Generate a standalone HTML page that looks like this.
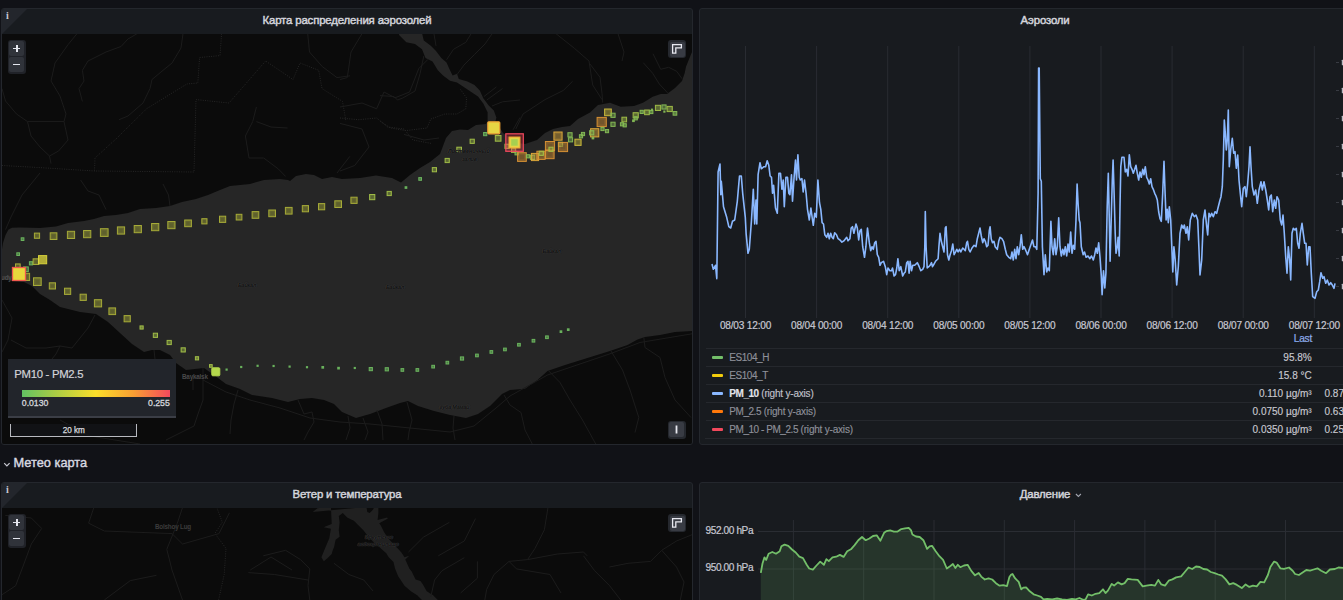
<!DOCTYPE html>
<html lang="ru"><head><meta charset="utf-8"><title>Dashboard</title>
<style>
*{box-sizing:border-box;margin:0;padding:0}
html,body{width:1343px;height:600px;overflow:hidden;background:#111217;font-family:"Liberation Sans",Arial,sans-serif;color:#ccccdc}
.panel{position:absolute;background:#181b1f;border:1px solid #24272d;border-radius:3px;overflow:hidden}
.ptitle{position:absolute;left:0;right:0;top:0;height:25px;line-height:22.5px;text-align:center;font-size:11.4px;color:#d4d5dc;-webkit-text-stroke:0.45px #d4d5dc;letter-spacing:-0.15px}
.corner{position:absolute;left:0;top:0;width:0;height:0;border-top:25px solid #23262c;border-right:25px solid transparent}
.ci{position:absolute;left:4px;top:1px;font-family:"Liberation Serif",serif;font-weight:bold;font-size:10px;color:#c9cad3;line-height:12px}
.map{position:absolute;left:0;top:25px;right:0;bottom:0;background:#0b0b0b;overflow:hidden}
svg{position:absolute;left:0;top:0;overflow:visible}
.zoomc{position:absolute;left:5.7px;top:5.6px;width:18px;height:34.5px;background:rgba(34,37,43,.9);border-radius:3px;padding:1.5px}
.zoomc div{width:15px;height:15px;background:#30333a;border-radius:2px;margin-bottom:1px;position:relative}
.zoomc div:before{content:"";position:absolute;left:4.2px;top:6.6px;width:6.6px;height:1.8px;background:#e4e6ee}
.zoomc div.p:after{content:"";position:absolute;left:6.6px;top:4.2px;width:1.8px;height:6.6px;background:#e4e6ee}
.mbtn{position:absolute;width:18px;height:18px;background:rgba(40,43,50,.9);border-radius:3px;padding:1.5px}
.mbtn div{width:15px;height:15px;background:#383b43;border-radius:2px;position:relative}
.mlegend{position:absolute;left:5.8px;top:325.3px;width:168px;height:58.7px;background:#22252b;border-bottom:2px solid #3b3e46}
.mlegend .t{position:absolute;left:6.5px;top:7.3px;font-size:11.3px;line-height:14px;color:#d2d3d8;letter-spacing:-0.28px;-webkit-text-stroke:0.2px #d2d3d8}
.mlegend .bar{position:absolute;left:14px;top:30.5px;width:148px;height:7.5px;background:linear-gradient(90deg,#62c262 0%,#a8cc45 22%,#fade2a 50%,#f9a033 75%,#f2495c 100%)}
.mlegend .l{position:absolute;top:38.6px;font-size:8.7px;line-height:10px;color:#d5d6dc;-webkit-text-stroke:0.3px #d5d6dc}
.scalebar{position:absolute;left:8.3px;top:389.7px;width:127px;height:13px;border:1px solid #b8bac0;border-top:none;background:rgba(20,22,25,.75);font-size:8.2px;line-height:13.5px;text-align:center;color:#d8d9df;-webkit-text-stroke:0.25px #d8d9df}
.mapl{position:absolute;font-size:6.3px;font-weight:bold;color:#4a4a4a;white-space:nowrap;line-height:7px;letter-spacing:-0.2px}
.mapl.i{font-style:italic;font-size:5.4px;color:#0e0e0e;text-shadow:0 0 1px #444,0 0 1px #444}
.xl{position:absolute;top:319.5px;width:80px;text-align:center;font-size:10.1px;line-height:12px;color:#c7c8d2;letter-spacing:-0.2px;-webkit-text-stroke:0.2px #c7c8d2}
.lrow{position:absolute;left:706px;width:642px;height:18px;border-top:1px solid #25282d;font-size:10px;line-height:17.6px;color:#8e9099;-webkit-text-stroke:0.15px}
.lrow i{position:absolute;left:6px;top:6.6px;width:11px;height:3px;border-radius:1px}
.lrow .ln{position:absolute;left:23.3px;letter-spacing:-0.45px}
.lrow em{letter-spacing:-0.2px}
.lrow.b .ln{font-weight:bold}
.lrow em{font-style:normal;font-weight:normal}
.lrow.b .ln{color:#e2e3ea}
.lrow.b em{color:#c0c1ca}
.lrow .lv{position:absolute;right:36.3px;color:#c8c9d0;letter-spacing:0px}
.lrow .lv2{position:absolute;left:618.5px;color:#c8c9d0}
.yl{position:absolute;font-size:10.1px;line-height:12px;color:#c7c8d2;left:705.5px;letter-spacing:-0.4px;-webkit-text-stroke:0.2px #c7c8d2}
.row{position:absolute;left:13.5px;top:455px;font-size:12.8px;line-height:16px;color:#d8d9e2;-webkit-text-stroke:0.4px #d8d9e2}
</style></head><body>

<!-- Panel 1: aerosol map -->
<div class="panel" style="left:1px;top:8px;width:692px;height:437px">
 <div class="ptitle">Карта распределения аэрозолей</div>
 <div class="corner"></div><div class="ci">i</div>
 <div class="map">
  <svg width="690" height="411" viewBox="2 34 690 411">
   <polygon points="1.0,264.0 1.5,252.0 3.0,243.0 5.5,235.0 8.5,229.5 12.0,227.8 20.0,227.5 40.0,228.0 56.0,226.4 68.0,223.0 84.0,221.0 94.0,219.0 104.0,216.0 116.0,215.0 128.0,213.0 140.0,209.0 156.0,208.0 170.0,206.0 182.0,202.0 196.0,199.0 208.0,195.0 220.0,190.0 230.0,186.0 250.0,184.0 264.0,180.0 280.0,179.0 288.0,180.0 290.0,181.0 296.0,176.0 306.0,174.0 314.0,175.0 322.0,179.0 332.0,177.0 342.0,179.0 360.0,178.0 376.0,175.6 392.0,178.0 401.0,182.6 410.0,175.0 420.0,168.0 430.0,162.0 440.0,154.0 446.0,138.0 452.0,131.0 460.0,129.6 468.0,130.0 476.0,125.0 486.0,124.0 487.6,121.0 487.6,112.3 483.3,103.5 478.0,96.5 467.5,89.5 457.0,82.5 450.0,80.8 443.0,75.5 437.8,70.3 432.5,61.5 425.5,58.0 422.0,49.3 415.0,44.0 406.3,42.3 399.3,35.3 398.4,33.0 422.0,33.0 423.8,40.5 430.8,45.8 436.0,51.0 441.3,58.0 446.5,62.4 450.0,70.3 452.6,75.5 457.0,73.8 458.8,79.0 467.5,81.6 474.5,85.0 479.8,90.4 483.3,98.3 488.5,105.3 493.8,110.5 496.4,117.5 495.5,121.0 497.0,124.0 500.0,128.0 503.0,133.0 510.0,138.0 518.0,143.0 525.0,144.0 537.0,140.0 545.0,133.0 553.0,129.0 562.0,127.0 570.0,126.0 578.0,119.0 590.0,112.5 598.0,105.0 610.0,102.7 620.7,106.7 634.0,106.0 643.0,102.7 652.7,96.7 660.7,94.0 667.0,94.0 675.0,88.0 682.0,81.0 684.7,73.0 686.0,66.7 688.7,60.0 692.0,52.0 692.0,331.0 675.0,332.0 660.0,335.0 645.0,337.0 637.5,339.5 627.5,345.0 610.0,351.0 585.0,358.7 565.0,365.0 547.5,371.0 537.5,380.0 525.0,388.7 510.0,390.0 502.0,394.0 490.0,406.0 478.0,414.0 466.0,418.0 450.0,415.0 434.0,411.0 418.0,406.0 408.0,401.0 400.0,403.0 386.0,408.0 370.0,414.0 356.0,418.0 342.0,412.0 334.0,404.0 324.0,400.0 312.0,398.0 300.0,399.0 288.0,402.0 272.0,398.0 252.0,395.0 240.0,389.0 226.0,384.0 214.0,375.0 204.0,368.0 186.0,370.0 176.0,363.0 170.0,355.0 160.0,350.0 152.0,350.0 144.0,352.0 132.0,344.0 120.0,333.0 108.0,322.0 96.0,314.0 80.0,312.0 60.0,307.0 50.0,300.0 40.0,294.0 32.0,286.0 24.0,282.0 12.0,281.0 2.0,279.0 1.0,279.0" fill="#262626"/>
   <g fill="none" stroke="#1c1c1c" stroke-width="1"><polyline points="77.0,33.7 68.0,44.7 55.0,63.0 51.0,81.0 60.0,96.0 66.0,114.0 64.0,121.6 68.0,140.0 58.6,151.0 49.5,156.0 51.0,163.7"/>
<polyline points="2.0,88.6 5.5,101.0 16.5,114.0 27.5,121.6 44.0,121.6 64.0,121.6"/>
<polyline points="27.5,121.6 31.0,136.0 40.0,147.0 49.5,156.0"/>
<polyline points="137.0,33.7 128.0,39.0 121.0,46.5 106.0,52.0 88.0,61.0 82.4,70.3 84.0,81.0 79.0,88.6 82.4,101.4"/>
<polyline points="183.0,33.7 181.0,48.0 172.0,63.0 161.0,72.0 152.0,79.5 150.0,88.6 143.0,103.0 128.0,116.0 119.0,119.7"/>
<polyline points="221.6,33.7 220.0,55.6 199.6,57.5 197.8,83.0 186.8,84.0 146.5,108.8 117.0,138.0 95.0,158.0 94.5,171.0" stroke="#262626" stroke-dasharray="1 1.3"/>
<polyline points="2.0,165.5 36.6,167.4 94.5,171.0 194.0,172.0 196.0,99.6 229.0,103.0 265.6,61.0 293.0,79.5 300.0,63.0 318.7,70.3 322.0,88.6 342.5,101.4 346.0,121.6" stroke="#262626" stroke-dasharray="1 1.3"/>
<polyline points="256.4,107.0 252.7,121.6 245.4,136.0 249.0,158.0 263.7,158.0 278.4,169.0 285.7,176.5"/>
<polyline points="256.4,121.6 271.0,127.0 287.5,128.0"/>
<polyline points="307.7,33.7 309.5,52.0 322.3,66.6 337.0,77.6 350.0,75.8"/>
<polyline points="349.8,156.4 337.0,173.0"/>
<polyline points="80.6,180.0 88.0,191.0 99.0,195.0 106.0,209.5"/>
<polyline points="163.0,184.0 168.5,195.0 170.0,206.0"/>
<polyline points="40.0,173.0 22.0,195.0 11.0,217.0 5.5,229.6"/>
<polyline points="362.0,33.7 351.0,52.0 347.3,77.6 340.0,79.5"/>
<polyline points="340.0,118.0 358.3,119.7 376.6,118.0 387.6,127.0 404.0,129.0 413.0,140.0 431.6,143.5" stroke="#262626" stroke-dasharray="1 1.3"/>
<polyline points="340.0,107.0 362.0,103.0 376.6,108.8 384.0,92.0 395.0,97.8 409.6,92.0 418.8,68.5 428.0,59.3"/>
<polyline points="340.0,123.4 362.0,129.0 369.0,147.0 354.7,165.5 340.0,171.0"/>
<polyline points="404.0,134.4 424.0,140.0 439.0,138.0"/>
<polyline points="515.8,129.0 523.0,114.0 545.0,99.6 563.4,90.4 572.6,81.3"/>
<polyline points="471.0,33.9 465.8,42.3 453.5,49.3 446.5,59.8"/>
<polyline points="492.0,33.9 485.0,44.0 474.5,54.5 464.0,65.0 457.0,74.6"/>
<polyline points="434.0,33.9 436.0,45.8"/>
<polyline points="423.8,56.0 420.0,73.8 415.0,91.0 402.8,98.0 397.5,100.0 394.0,96.5 380.0,95.6"/>
<polyline points="496.4,86.9 484.0,96.5"/>
<polyline points="502.5,88.6 486.8,100.0"/>
<polyline points="520.0,100.0 502.5,101.8 492.0,106.0"/>
<polyline points="520.0,117.5 513.0,129.8"/>
<polyline points="460.5,89.5 466.6,98.0 465.8,108.8 457.0,114.0 444.8,114.0 430.8,119.0 427.0,128.0 406.0,130.6 390.5,128.0 380.0,121.0" stroke="#262626" stroke-dasharray="1 1.3"/>
<polyline points="556.0,33.7 574.4,48.3 589.0,61.0 592.7,85.0 602.0,99.6"/>
<polyline points="618.0,33.7 624.0,52.0 622.0,61.0"/>
<polyline points="590.0,64.0 600.0,77.3 602.0,93.3 602.7,102.7"/>
<polyline points="643.3,62.7 652.7,73.3 659.3,84.0 668.0,93.3"/>
<polyline points="653.0,53.8 660.7,69.3 668.7,67.3 676.7,71.3 682.0,78.7"/>
<polyline points="203.0,368.0 203.0,400.0 198.0,414.0 194.0,426.0 178.0,434.0 166.0,440.0"/>
<polyline points="193.0,378.0 193.0,390.0"/>
<polyline points="238.0,390.0 234.0,404.0 231.0,420.0 230.0,434.0"/>
<polyline points="298.0,400.0 304.0,414.0 312.0,412.0 314.0,422.0 308.0,432.0 304.0,440.0"/>
<polyline points="203.0,380.0 226.0,392.0 250.0,400.0 280.0,408.0 310.0,418.0 340.0,422.0 370.0,424.0 410.0,428.0 450.0,432.0 474.0,426.0 496.0,408.0 510.0,396.0 547.5,375.0 610.0,353.8 640.0,342.5 692.0,333.8"/>
<polyline points="348.0,416.0 350.0,428.0 346.0,440.0"/>
<polyline points="363.0,418.0 368.0,432.0 365.0,440.0"/>
<polyline points="377.0,410.0 382.0,424.0 383.0,440.0"/>
<polyline points="407.0,402.0 412.0,420.0 409.0,432.0 408.0,440.0"/>
<polyline points="454.0,416.0 453.0,428.0 455.0,440.0"/>
<polyline points="504.0,395.0 510.0,405.0 521.0,412.5 525.0,430.0 532.5,444.5"/>
<polyline points="548.8,371.0 560.0,382.5 570.0,400.0 582.5,420.0 596.0,444.5"/>
<polyline points="611.0,351.0 622.5,370.0 630.0,390.0 638.8,417.5 635.0,432.5"/>
<polyline points="643.8,337.5 645.0,347.5 660.0,357.5 665.0,377.5 675.0,400.0 691.0,417.5"/>
<polyline points="95.0,315.0 88.0,328.0 80.0,338.0 72.0,348.0 60.0,346.0 56.0,354.0 52.0,359.0"/>
<polyline points="11.0,340.0 26.0,348.0 46.0,348.0 60.0,346.0"/>
<polyline points="154.0,350.0 155.0,359.0"/>
<polyline points="2.0,300.0 12.0,318.0 8.0,340.0 2.0,352.0"/>
<polyline points="60.0,420.0 90.0,436.0 140.0,444.0"/></g>
   <rect x="21.2" y="237.8" width="2.7" height="2.7" fill="#6db85f" fill-opacity="0.6" stroke="#6db85f" stroke-opacity="0.95" stroke-width="1"/>
<rect x="34.4" y="233.1" width="5.2" height="5.2" fill="#abb038" fill-opacity="0.5" stroke="#abb038" stroke-opacity="0.95" stroke-width="1"/><rect x="35.7" y="234.4" width="2.6" height="2.6" fill="#222" fill-opacity="0.15"/>
<rect x="50.2" y="232.8" width="6.7" height="6.7" fill="#abb038" fill-opacity="0.5" stroke="#abb038" stroke-opacity="0.95" stroke-width="1"/><rect x="51.9" y="234.4" width="3.4" height="3.4" fill="#222" fill-opacity="0.15"/>
<rect x="67.4" y="231.3" width="7.2" height="7.2" fill="#abb038" fill-opacity="0.5" stroke="#abb038" stroke-opacity="0.95" stroke-width="1"/><rect x="69.2" y="233.1" width="3.6" height="3.6" fill="#222" fill-opacity="0.15"/>
<rect x="83.6" y="230.5" width="7.2" height="7.2" fill="#abb038" fill-opacity="0.5" stroke="#abb038" stroke-opacity="0.95" stroke-width="1"/><rect x="85.4" y="232.3" width="3.6" height="3.6" fill="#222" fill-opacity="0.15"/>
<rect x="100.4" y="228.7" width="7.7" height="7.7" fill="#abb038" fill-opacity="0.5" stroke="#abb038" stroke-opacity="0.95" stroke-width="1"/><rect x="102.3" y="230.6" width="3.9" height="3.9" fill="#222" fill-opacity="0.15"/>
<rect x="117.4" y="226.9" width="7.2" height="7.2" fill="#abb038" fill-opacity="0.5" stroke="#abb038" stroke-opacity="0.95" stroke-width="1"/><rect x="119.2" y="228.7" width="3.6" height="3.6" fill="#222" fill-opacity="0.15"/>
<rect x="134.2" y="225.5" width="7.2" height="7.2" fill="#abb038" fill-opacity="0.5" stroke="#abb038" stroke-opacity="0.95" stroke-width="1"/><rect x="136.0" y="227.3" width="3.6" height="3.6" fill="#222" fill-opacity="0.15"/>
<rect x="151.6" y="223.5" width="7.2" height="7.2" fill="#abb038" fill-opacity="0.5" stroke="#abb038" stroke-opacity="0.95" stroke-width="1"/><rect x="153.4" y="225.3" width="3.6" height="3.6" fill="#222" fill-opacity="0.15"/>
<rect x="167.8" y="221.5" width="7.2" height="7.2" fill="#abb038" fill-opacity="0.5" stroke="#abb038" stroke-opacity="0.95" stroke-width="1"/><rect x="169.6" y="223.3" width="3.6" height="3.6" fill="#222" fill-opacity="0.15"/>
<rect x="184.7" y="220.0" width="6.7" height="6.7" fill="#abb038" fill-opacity="0.5" stroke="#abb038" stroke-opacity="0.95" stroke-width="1"/><rect x="186.3" y="221.6" width="3.4" height="3.4" fill="#222" fill-opacity="0.15"/>
<rect x="201.8" y="218.7" width="5.2" height="5.2" fill="#abb038" fill-opacity="0.5" stroke="#abb038" stroke-opacity="0.95" stroke-width="1"/><rect x="203.1" y="220.0" width="2.6" height="2.6" fill="#222" fill-opacity="0.15"/>
<rect x="219.5" y="216.2" width="6.2" height="6.2" fill="#abb038" fill-opacity="0.5" stroke="#abb038" stroke-opacity="0.95" stroke-width="1"/><rect x="221.0" y="217.8" width="3.1" height="3.1" fill="#222" fill-opacity="0.15"/>
<rect x="236.2" y="214.3" width="5.7" height="5.7" fill="#abb038" fill-opacity="0.5" stroke="#abb038" stroke-opacity="0.95" stroke-width="1"/><rect x="237.6" y="215.7" width="2.9" height="2.9" fill="#222" fill-opacity="0.15"/>
<rect x="252.1" y="211.6" width="6.7" height="6.7" fill="#abb038" fill-opacity="0.5" stroke="#abb038" stroke-opacity="0.95" stroke-width="1"/><rect x="253.7" y="213.2" width="3.4" height="3.4" fill="#222" fill-opacity="0.15"/>
<rect x="268.8" y="210.0" width="6.7" height="6.7" fill="#abb038" fill-opacity="0.5" stroke="#abb038" stroke-opacity="0.95" stroke-width="1"/><rect x="270.5" y="211.6" width="3.4" height="3.4" fill="#222" fill-opacity="0.15"/>
<rect x="285.4" y="207.4" width="6.7" height="6.7" fill="#abb038" fill-opacity="0.5" stroke="#abb038" stroke-opacity="0.95" stroke-width="1"/><rect x="287.1" y="209.0" width="3.4" height="3.4" fill="#222" fill-opacity="0.15"/>
<rect x="302.3" y="205.6" width="6.2" height="6.2" fill="#abb038" fill-opacity="0.5" stroke="#abb038" stroke-opacity="0.95" stroke-width="1"/><rect x="303.8" y="207.2" width="3.1" height="3.1" fill="#222" fill-opacity="0.15"/>
<rect x="318.5" y="203.6" width="6.2" height="6.2" fill="#abb038" fill-opacity="0.5" stroke="#abb038" stroke-opacity="0.95" stroke-width="1"/><rect x="320.1" y="205.2" width="3.1" height="3.1" fill="#222" fill-opacity="0.15"/>
<rect x="334.8" y="200.8" width="6.7" height="6.7" fill="#abb038" fill-opacity="0.5" stroke="#abb038" stroke-opacity="0.95" stroke-width="1"/><rect x="336.5" y="202.4" width="3.4" height="3.4" fill="#222" fill-opacity="0.15"/>
<rect x="350.9" y="197.2" width="6.2" height="6.2" fill="#abb038" fill-opacity="0.5" stroke="#abb038" stroke-opacity="0.95" stroke-width="1"/><rect x="352.4" y="198.8" width="3.1" height="3.1" fill="#222" fill-opacity="0.15"/>
<rect x="369.6" y="194.5" width="5.2" height="5.2" fill="#a3c148" fill-opacity="0.5" stroke="#a3c148" stroke-opacity="0.95" stroke-width="1"/><rect x="370.9" y="195.8" width="2.6" height="2.6" fill="#222" fill-opacity="0.15"/>
<rect x="387.1" y="191.4" width="4.2" height="4.2" fill="#a3c148" fill-opacity="0.5" stroke="#a3c148" stroke-opacity="0.95" stroke-width="1"/><rect x="388.1" y="192.4" width="2.1" height="2.1" fill="#222" fill-opacity="0.15"/>
<rect x="404.6" y="186.2" width="2.7" height="2.7" fill="#6db85f" fill-opacity="0.95"/>
<rect x="418.8" y="177.6" width="2.7" height="2.7" fill="#6db85f" fill-opacity="0.6" stroke="#6db85f" stroke-opacity="0.95" stroke-width="1"/>
<rect x="432.3" y="167.6" width="4.2" height="4.2" fill="#a3c148" fill-opacity="0.5" stroke="#a3c148" stroke-opacity="0.95" stroke-width="1"/><rect x="433.3" y="168.7" width="2.1" height="2.1" fill="#222" fill-opacity="0.15"/>
<rect x="445.1" y="158.4" width="4.2" height="4.2" fill="#a3c148" fill-opacity="0.5" stroke="#a3c148" stroke-opacity="0.95" stroke-width="1"/><rect x="446.1" y="159.4" width="2.1" height="2.1" fill="#222" fill-opacity="0.15"/>
<rect x="456.8" y="147.2" width="4.7" height="4.7" fill="#a3c148" fill-opacity="0.5" stroke="#a3c148" stroke-opacity="0.95" stroke-width="1"/><rect x="458.0" y="148.3" width="2.4" height="2.4" fill="#222" fill-opacity="0.15"/>
<rect x="470.1" y="139.2" width="4.2" height="4.2" fill="#a3c148" fill-opacity="0.5" stroke="#a3c148" stroke-opacity="0.95" stroke-width="1"/><rect x="471.1" y="140.2" width="2.1" height="2.1" fill="#222" fill-opacity="0.15"/>
<rect x="483.6" y="132.5" width="3.2" height="3.2" fill="#6db85f" fill-opacity="0.6" stroke="#6db85f" stroke-opacity="0.95" stroke-width="1"/>
<rect x="495.3" y="135.5" width="5.7" height="5.7" fill="#a3c148" fill-opacity="0.5" stroke="#a3c148" stroke-opacity="0.95" stroke-width="1"/><rect x="496.8" y="136.9" width="2.9" height="2.9" fill="#222" fill-opacity="0.15"/>
<rect x="16.8" y="252.8" width="2.7" height="2.7" fill="#6db85f" fill-opacity="0.6" stroke="#6db85f" stroke-opacity="0.95" stroke-width="1"/>
<rect x="29.4" y="261.7" width="3.2" height="3.2" fill="#6db85f" fill-opacity="0.6" stroke="#6db85f" stroke-opacity="0.95" stroke-width="1"/>
<rect x="33.1" y="258.8" width="5.7" height="5.7" fill="#abb038" fill-opacity="0.5" stroke="#abb038" stroke-opacity="0.95" stroke-width="1"/><rect x="34.6" y="260.3" width="2.9" height="2.9" fill="#222" fill-opacity="0.15"/>
<rect x="38.5" y="255.6" width="8.2" height="8.2" fill="#e0da3c" fill-opacity="0.75" stroke="#e0da3c" stroke-opacity="0.9" stroke-width="1"/>
<rect x="15.5" y="263.9" width="4.7" height="4.7" fill="#abb038" fill-opacity="0.5" stroke="#abb038" stroke-opacity="0.95" stroke-width="1"/><rect x="16.6" y="265.1" width="2.4" height="2.4" fill="#222" fill-opacity="0.15"/>
<rect x="23.6" y="266.9" width="4.7" height="4.7" fill="#6db85f" fill-opacity="0.5" stroke="#6db85f" stroke-opacity="0.95" stroke-width="1"/><rect x="24.8" y="268.1" width="2.4" height="2.4" fill="#222" fill-opacity="0.15"/>
<rect x="22.4" y="273.3" width="7.2" height="7.2" fill="#abb038" fill-opacity="0.5" stroke="#abb038" stroke-opacity="0.95" stroke-width="1"/><rect x="24.2" y="275.1" width="3.6" height="3.6" fill="#222" fill-opacity="0.15"/>
<rect x="33.5" y="277.8" width="7.7" height="7.7" fill="#abb038" fill-opacity="0.5" stroke="#abb038" stroke-opacity="0.95" stroke-width="1"/><rect x="35.5" y="279.8" width="3.9" height="3.9" fill="#222" fill-opacity="0.15"/>
<rect x="49.3" y="282.8" width="6.2" height="6.2" fill="#abb038" fill-opacity="0.5" stroke="#abb038" stroke-opacity="0.95" stroke-width="1"/><rect x="50.9" y="284.4" width="3.1" height="3.1" fill="#222" fill-opacity="0.15"/>
<rect x="64.5" y="288.2" width="6.2" height="6.2" fill="#abb038" fill-opacity="0.5" stroke="#abb038" stroke-opacity="0.95" stroke-width="1"/><rect x="66.0" y="289.8" width="3.1" height="3.1" fill="#222" fill-opacity="0.15"/>
<rect x="80.1" y="294.2" width="6.2" height="6.2" fill="#abb038" fill-opacity="0.5" stroke="#abb038" stroke-opacity="0.95" stroke-width="1"/><rect x="81.7" y="295.8" width="3.1" height="3.1" fill="#222" fill-opacity="0.15"/>
<rect x="94.4" y="299.7" width="7.2" height="7.2" fill="#abb038" fill-opacity="0.5" stroke="#abb038" stroke-opacity="0.95" stroke-width="1"/><rect x="96.2" y="301.5" width="3.6" height="3.6" fill="#222" fill-opacity="0.15"/>
<rect x="108.9" y="307.9" width="6.7" height="6.7" fill="#abb038" fill-opacity="0.5" stroke="#abb038" stroke-opacity="0.95" stroke-width="1"/><rect x="110.5" y="309.6" width="3.4" height="3.4" fill="#222" fill-opacity="0.15"/>
<rect x="124.1" y="315.6" width="6.2" height="6.2" fill="#abb038" fill-opacity="0.5" stroke="#abb038" stroke-opacity="0.95" stroke-width="1"/><rect x="125.7" y="317.1" width="3.1" height="3.1" fill="#222" fill-opacity="0.15"/>
<rect x="140.0" y="325.9" width="3.2" height="3.2" fill="#a3c148" fill-opacity="0.6" stroke="#a3c148" stroke-opacity="0.95" stroke-width="1"/>
<rect x="153.3" y="333.2" width="4.2" height="4.2" fill="#a3c148" fill-opacity="0.5" stroke="#a3c148" stroke-opacity="0.95" stroke-width="1"/><rect x="154.3" y="334.2" width="2.1" height="2.1" fill="#222" fill-opacity="0.15"/>
<rect x="167.1" y="340.4" width="4.2" height="4.2" fill="#a3c148" fill-opacity="0.5" stroke="#a3c148" stroke-opacity="0.95" stroke-width="1"/><rect x="168.1" y="341.4" width="2.1" height="2.1" fill="#222" fill-opacity="0.15"/>
<rect x="181.1" y="347.8" width="4.2" height="4.2" fill="#a3c148" fill-opacity="0.5" stroke="#a3c148" stroke-opacity="0.95" stroke-width="1"/><rect x="182.1" y="348.9" width="2.1" height="2.1" fill="#222" fill-opacity="0.15"/>
<rect x="195.4" y="356.7" width="3.2" height="3.2" fill="#a3c148" fill-opacity="0.6" stroke="#a3c148" stroke-opacity="0.95" stroke-width="1"/>
<rect x="209.5" y="364.6" width="2.7" height="2.7" fill="#a3c148" fill-opacity="0.6" stroke="#a3c148" stroke-opacity="0.95" stroke-width="1"/>
<rect x="225.5" y="368.5" width="2.2" height="2.2" fill="#6db85f" fill-opacity="0.95"/>
<rect x="240.1" y="365.9" width="2.2" height="2.2" fill="#6db85f" fill-opacity="0.95"/>
<rect x="256.5" y="364.7" width="2.2" height="2.2" fill="#6db85f" fill-opacity="0.95"/>
<rect x="272.5" y="364.9" width="2.2" height="2.2" fill="#6db85f" fill-opacity="0.95"/>
<rect x="288.5" y="365.5" width="2.2" height="2.2" fill="#6db85f" fill-opacity="0.95"/>
<rect x="305.9" y="366.1" width="2.2" height="2.2" fill="#6db85f" fill-opacity="0.95"/>
<rect x="321.4" y="366.0" width="2.7" height="2.7" fill="#6db85f" fill-opacity="0.95"/>
<rect x="337.2" y="366.8" width="2.7" height="2.7" fill="#6db85f" fill-opacity="0.95"/>
<rect x="353.7" y="366.9" width="2.2" height="2.2" fill="#6db85f" fill-opacity="0.95"/>
<rect x="369.2" y="367.5" width="3.2" height="3.2" fill="#6db85f" fill-opacity="0.6" stroke="#6db85f" stroke-opacity="0.95" stroke-width="1"/>
<rect x="385.2" y="367.7" width="3.2" height="3.2" fill="#6db85f" fill-opacity="0.6" stroke="#6db85f" stroke-opacity="0.95" stroke-width="1"/>
<rect x="401.0" y="368.6" width="2.7" height="2.7" fill="#6db85f" fill-opacity="0.6" stroke="#6db85f" stroke-opacity="0.95" stroke-width="1"/>
<rect x="416.0" y="368.6" width="2.7" height="2.7" fill="#6db85f" fill-opacity="0.6" stroke="#6db85f" stroke-opacity="0.95" stroke-width="1"/>
<rect x="431.8" y="365.3" width="2.7" height="2.7" fill="#6db85f" fill-opacity="0.6" stroke="#6db85f" stroke-opacity="0.95" stroke-width="1"/>
<rect x="446.0" y="361.3" width="2.7" height="2.7" fill="#6db85f" fill-opacity="0.6" stroke="#6db85f" stroke-opacity="0.95" stroke-width="1"/>
<rect x="460.4" y="356.9" width="3.2" height="3.2" fill="#6db85f" fill-opacity="0.6" stroke="#6db85f" stroke-opacity="0.95" stroke-width="1"/>
<rect x="475.6" y="354.1" width="2.7" height="2.7" fill="#6db85f" fill-opacity="0.6" stroke="#6db85f" stroke-opacity="0.95" stroke-width="1"/>
<rect x="490.0" y="350.6" width="2.7" height="2.7" fill="#6db85f" fill-opacity="0.6" stroke="#6db85f" stroke-opacity="0.95" stroke-width="1"/>
<rect x="503.6" y="348.1" width="2.7" height="2.7" fill="#6db85f" fill-opacity="0.6" stroke="#6db85f" stroke-opacity="0.95" stroke-width="1"/>
<rect x="517.6" y="343.4" width="2.7" height="2.7" fill="#6db85f" fill-opacity="0.6" stroke="#6db85f" stroke-opacity="0.95" stroke-width="1"/>
<rect x="532.1" y="339.4" width="2.7" height="2.7" fill="#6db85f" fill-opacity="0.6" stroke="#6db85f" stroke-opacity="0.95" stroke-width="1"/>
<rect x="545.6" y="335.9" width="2.7" height="2.7" fill="#6db85f" fill-opacity="0.6" stroke="#6db85f" stroke-opacity="0.95" stroke-width="1"/>
<rect x="559.6" y="330.3" width="2.7" height="2.7" fill="#6db85f" fill-opacity="0.95"/>
<rect x="566.9" y="328.3" width="2.7" height="2.7" fill="#6db85f" fill-opacity="0.95"/>
<rect x="504.9" y="144.2" width="4.2" height="4.2" fill="#a3c148" fill-opacity="0.5" stroke="#a3c148" stroke-opacity="0.95" stroke-width="1"/><rect x="505.9" y="145.2" width="2.1" height="2.1" fill="#222" fill-opacity="0.15"/>
<rect x="511.5" y="148.2" width="4.2" height="4.2" fill="#a3c148" fill-opacity="0.5" stroke="#a3c148" stroke-opacity="0.95" stroke-width="1"/><rect x="512.6" y="149.2" width="2.1" height="2.1" fill="#222" fill-opacity="0.15"/>
<rect x="515.0" y="151.7" width="3.2" height="3.2" fill="#86bd55" fill-opacity="0.6" stroke="#86bd55" stroke-opacity="0.95" stroke-width="1"/>
<rect x="517.6" y="152.7" width="8.7" height="8.7" fill="#dd9534" fill-opacity="0.5" stroke="#dd9534" stroke-opacity="0.95" stroke-width="1"/><rect x="519.8" y="154.8" width="4.3" height="4.3" fill="#222" fill-opacity="0.15"/>
<rect x="526.4" y="154.7" width="3.2" height="3.2" fill="#86bd55" fill-opacity="0.6" stroke="#86bd55" stroke-opacity="0.95" stroke-width="1"/>
<rect x="530.4" y="155.2" width="4.2" height="4.2" fill="#86bd55" fill-opacity="0.5" stroke="#86bd55" stroke-opacity="0.95" stroke-width="1"/><rect x="531.5" y="156.2" width="2.1" height="2.1" fill="#222" fill-opacity="0.15"/>
<rect x="531.4" y="153.4" width="7.2" height="7.2" fill="#e2ab3a" fill-opacity="0.5" stroke="#e2ab3a" stroke-opacity="0.95" stroke-width="1"/><rect x="533.2" y="155.2" width="3.6" height="3.6" fill="#222" fill-opacity="0.15"/>
<rect x="536.9" y="151.2" width="8.2" height="8.2" fill="#dd9534" fill-opacity="0.5" stroke="#dd9534" stroke-opacity="0.95" stroke-width="1"/><rect x="539.0" y="153.2" width="4.1" height="4.1" fill="#222" fill-opacity="0.15"/>
<rect x="539.2" y="151.2" width="4.2" height="4.2" fill="#a3c148" fill-opacity="0.5" stroke="#a3c148" stroke-opacity="0.95" stroke-width="1"/><rect x="540.2" y="152.2" width="2.1" height="2.1" fill="#222" fill-opacity="0.15"/>
<rect x="545.4" y="150.0" width="8.7" height="8.7" fill="#dd9534" fill-opacity="0.5" stroke="#dd9534" stroke-opacity="0.95" stroke-width="1"/><rect x="547.5" y="152.1" width="4.3" height="4.3" fill="#222" fill-opacity="0.15"/>
<rect x="545.4" y="141.5" width="9.2" height="9.2" fill="#dd9534" fill-opacity="0.5" stroke="#dd9534" stroke-opacity="0.95" stroke-width="1"/><rect x="547.7" y="143.8" width="4.6" height="4.6" fill="#222" fill-opacity="0.15"/>
<rect x="548.9" y="147.2" width="4.2" height="4.2" fill="#a3c148" fill-opacity="0.5" stroke="#a3c148" stroke-opacity="0.95" stroke-width="1"/><rect x="550.0" y="148.2" width="2.1" height="2.1" fill="#222" fill-opacity="0.15"/>
<rect x="553.9" y="132.0" width="8.2" height="8.2" fill="#e2ab3a" fill-opacity="0.5" stroke="#e2ab3a" stroke-opacity="0.95" stroke-width="1"/><rect x="556.0" y="134.1" width="4.1" height="4.1" fill="#222" fill-opacity="0.15"/>
<rect x="558.4" y="142.2" width="4.2" height="4.2" fill="#86bd55" fill-opacity="0.5" stroke="#86bd55" stroke-opacity="0.95" stroke-width="1"/><rect x="559.5" y="143.2" width="2.1" height="2.1" fill="#222" fill-opacity="0.15"/>
<rect x="558.4" y="142.4" width="9.2" height="9.2" fill="#dd9534" fill-opacity="0.5" stroke="#dd9534" stroke-opacity="0.95" stroke-width="1"/><rect x="560.7" y="144.7" width="4.6" height="4.6" fill="#222" fill-opacity="0.15"/>
<rect x="567.9" y="132.7" width="4.2" height="4.2" fill="#86bd55" fill-opacity="0.5" stroke="#86bd55" stroke-opacity="0.95" stroke-width="1"/><rect x="569.0" y="133.8" width="2.1" height="2.1" fill="#222" fill-opacity="0.15"/>
<rect x="568.4" y="137.7" width="4.2" height="4.2" fill="#86bd55" fill-opacity="0.5" stroke="#86bd55" stroke-opacity="0.95" stroke-width="1"/><rect x="569.5" y="138.8" width="2.1" height="2.1" fill="#222" fill-opacity="0.15"/>
<rect x="574.9" y="139.2" width="6.2" height="6.2" fill="#cdbd3b" fill-opacity="0.5" stroke="#cdbd3b" stroke-opacity="0.95" stroke-width="1"/><rect x="576.5" y="140.8" width="3.1" height="3.1" fill="#222" fill-opacity="0.15"/>
<rect x="579.4" y="134.7" width="3.2" height="3.2" fill="#86bd55" fill-opacity="0.6" stroke="#86bd55" stroke-opacity="0.95" stroke-width="1"/>
<rect x="581.4" y="132.4" width="3.2" height="3.2" fill="#86bd55" fill-opacity="0.6" stroke="#86bd55" stroke-opacity="0.95" stroke-width="1"/>
<rect x="590.6" y="128.7" width="8.2" height="8.2" fill="#e2ab3a" fill-opacity="0.5" stroke="#e2ab3a" stroke-opacity="0.95" stroke-width="1"/><rect x="592.7" y="130.8" width="4.1" height="4.1" fill="#222" fill-opacity="0.15"/>
<rect x="591.6" y="136.7" width="2.7" height="2.7" fill="#86bd55" fill-opacity="0.95"/>
<rect x="589.6" y="130.7" width="4.2" height="4.2" fill="#86bd55" fill-opacity="0.5" stroke="#86bd55" stroke-opacity="0.95" stroke-width="1"/><rect x="590.7" y="131.8" width="2.1" height="2.1" fill="#222" fill-opacity="0.15"/>
<rect x="597.1" y="117.4" width="9.2" height="9.2" fill="#dd9534" fill-opacity="0.5" stroke="#dd9534" stroke-opacity="0.95" stroke-width="1"/><rect x="599.4" y="119.7" width="4.6" height="4.6" fill="#222" fill-opacity="0.15"/>
<rect x="600.9" y="127.4" width="3.2" height="3.2" fill="#86bd55" fill-opacity="0.6" stroke="#86bd55" stroke-opacity="0.95" stroke-width="1"/>
<rect x="605.4" y="129.5" width="3.2" height="3.2" fill="#86bd55" fill-opacity="0.6" stroke="#86bd55" stroke-opacity="0.95" stroke-width="1"/>
<rect x="604.6" y="109.0" width="6.7" height="6.7" fill="#cdbd3b" fill-opacity="0.5" stroke="#cdbd3b" stroke-opacity="0.95" stroke-width="1"/><rect x="606.3" y="110.6" width="3.4" height="3.4" fill="#222" fill-opacity="0.15"/>
<rect x="610.9" y="113.2" width="4.2" height="4.2" fill="#86bd55" fill-opacity="0.5" stroke="#86bd55" stroke-opacity="0.95" stroke-width="1"/><rect x="612.0" y="114.2" width="2.1" height="2.1" fill="#222" fill-opacity="0.15"/>
<rect x="610.9" y="122.2" width="4.2" height="4.2" fill="#86bd55" fill-opacity="0.5" stroke="#86bd55" stroke-opacity="0.95" stroke-width="1"/><rect x="612.0" y="123.2" width="2.1" height="2.1" fill="#222" fill-opacity="0.15"/>
<rect x="621.9" y="117.2" width="4.7" height="4.7" fill="#a3c148" fill-opacity="0.5" stroke="#a3c148" stroke-opacity="0.95" stroke-width="1"/><rect x="623.1" y="118.4" width="2.4" height="2.4" fill="#222" fill-opacity="0.15"/>
<rect x="620.4" y="122.7" width="3.2" height="3.2" fill="#86bd55" fill-opacity="0.6" stroke="#86bd55" stroke-opacity="0.95" stroke-width="1"/>
<rect x="623.1" y="123.7" width="3.2" height="3.2" fill="#86bd55" fill-opacity="0.6" stroke="#86bd55" stroke-opacity="0.95" stroke-width="1"/>
<rect x="633.1" y="112.7" width="5.2" height="5.2" fill="#a3c148" fill-opacity="0.5" stroke="#a3c148" stroke-opacity="0.95" stroke-width="1"/><rect x="634.4" y="114.0" width="2.6" height="2.6" fill="#222" fill-opacity="0.15"/>
<rect x="634.1" y="116.7" width="3.2" height="3.2" fill="#86bd55" fill-opacity="0.6" stroke="#86bd55" stroke-opacity="0.95" stroke-width="1"/>
<rect x="632.1" y="119.4" width="2.7" height="2.7" fill="#86bd55" fill-opacity="0.95"/>
<rect x="640.1" y="110.3" width="3.2" height="3.2" fill="#86bd55" fill-opacity="0.6" stroke="#86bd55" stroke-opacity="0.95" stroke-width="1"/>
<rect x="644.6" y="110.0" width="4.7" height="4.7" fill="#a3c148" fill-opacity="0.5" stroke="#a3c148" stroke-opacity="0.95" stroke-width="1"/><rect x="645.8" y="111.1" width="2.4" height="2.4" fill="#222" fill-opacity="0.15"/>
<rect x="649.7" y="110.4" width="3.2" height="3.2" fill="#86bd55" fill-opacity="0.6" stroke="#86bd55" stroke-opacity="0.95" stroke-width="1"/>
<rect x="650.9" y="108.6" width="2.2" height="2.2" fill="#86bd55" fill-opacity="0.95"/>
<rect x="655.4" y="105.3" width="5.2" height="5.2" fill="#a3c148" fill-opacity="0.5" stroke="#a3c148" stroke-opacity="0.95" stroke-width="1"/><rect x="656.7" y="106.6" width="2.6" height="2.6" fill="#222" fill-opacity="0.15"/>
<rect x="661.9" y="104.9" width="4.2" height="4.2" fill="#86bd55" fill-opacity="0.5" stroke="#86bd55" stroke-opacity="0.95" stroke-width="1"/><rect x="663.0" y="106.0" width="2.1" height="2.1" fill="#222" fill-opacity="0.15"/>
<rect x="663.3" y="110.5" width="2.2" height="2.2" fill="#86bd55" fill-opacity="0.95"/>
<rect x="667.1" y="106.4" width="5.2" height="5.2" fill="#a3c148" fill-opacity="0.5" stroke="#a3c148" stroke-opacity="0.95" stroke-width="1"/><rect x="668.4" y="107.7" width="2.6" height="2.6" fill="#222" fill-opacity="0.15"/>
<rect x="673.1" y="111.5" width="3.7" height="3.7" fill="#86bd55" fill-opacity="0.6" stroke="#86bd55" stroke-opacity="0.95" stroke-width="1"/>
   <rect x="211.8" y="367.8" width="8" height="8" rx="1" fill="#b4d84c" stroke="#b4d84c" stroke-width="1"/>
<rect x="487.8" y="121.8" width="12" height="12" rx="1" fill="#e6d544" stroke="#f0a133" stroke-width="1.2"/>
<rect x="505.8" y="133.8" width="17.5" height="17.5" fill="#f2495c" fill-opacity="0.35" stroke="#f2495c" stroke-width="1.2"/>
<rect x="509.0" y="137.0" width="11" height="11" fill="#e4d447" stroke="#f0a133" stroke-width="1"/>
<rect x="511.2" y="139.2" width="6.5" height="6.5" fill="#a6d050"/>
<rect x="12.5" y="267.5" width="13" height="13" fill="#e8d83c" stroke="#f2584e" stroke-width="1.3"/>
  </svg>
  <div class="mapl" style="left:180px;top:339px">Baykalsk</div>
  <div class="mapl i" style="left:236px;top:247.5px">Байкал</div>
  <div class="mapl i" style="left:384px;top:249.5px">Байкал</div>
  <div class="mapl i" style="left:540.6px;top:214px">Байкал</div>
  <div class="mapl i" style="left:446px;top:113.5px;letter-spacing:0px">Лиственичный</div>
  <div class="mapl i" style="left:460px;top:121.5px">залив</div>
  <div class="mapl i" style="left:437.5px;top:369.5px">губа Мамай</div>
  <div class="mapl" style="left:-1px;top:240px;color:#505050">udy</div>
  <div class="zoomc"><div class="p"></div><div></div></div>
  <div class="mbtn" style="left:666px;top:6px"><div><svg width="15" height="15" viewBox="0 0 15 15"><path d="M2.6 11.2V2.6H11.4V5.8H5.8V11.2Z" fill="none" stroke="#e8e9f0" stroke-width="1.3"/></svg></div></div>
  <div class="mbtn" style="left:665.5px;top:386.5px"><div><svg width="15" height="15" viewBox="0 0 15 15"><rect x="6.6" y="3.5" width="1.8" height="8" fill="#e8e9f0"/></svg></div></div>
  <div class="mlegend"><div class="t">PM10 - PM2.5</div><div class="bar"></div><div class="l" style="left:14px">0.0130</div><div class="l" style="right:6px">0.255</div></div>
  <div class="scalebar">20 km</div>
 </div>
</div>

<!-- Panel 2: aerosol chart -->
<div class="panel" style="left:699px;top:8px;width:660px;height:437px">
 <div class="ptitle" style="left:0;width:690px;right:auto">Аэрозоли</div>
</div>
<svg width="1343" height="600" viewBox="0 0 1343 600" style="pointer-events:none">
 <g stroke="#292c32" stroke-width="1"><line x1="745.5" y1="46" x2="745.5" y2="318"/><line x1="816.6" y1="46" x2="816.6" y2="318"/><line x1="887.7" y1="46" x2="887.7" y2="318"/><line x1="958.8" y1="46" x2="958.8" y2="318"/><line x1="1029.9" y1="46" x2="1029.9" y2="318"/><line x1="1101.0" y1="46" x2="1101.0" y2="318"/><line x1="1172.1" y1="46" x2="1172.1" y2="318"/><line x1="1243.2" y1="46" x2="1243.2" y2="318"/><line x1="1314.3" y1="46" x2="1314.3" y2="318"/></g>
 <polyline points="712.0,264.0 713.3,269.3 715.5,265.3 716.8,278.7 718.1,172.0 720.0,164.0 720.8,194.7 721.3,181.3 723.5,206.7 726.7,217.3 728.8,226.7 730.7,228.0 732.5,221.3 734.7,220.0 737.3,201.3 739.5,176.0 741.3,176.0 742.7,193.3 745.3,217.3 746.1,233.3 748.0,253.3 749.3,249.3 751.5,220.0 753.3,189.3 754.7,224.0 756.0,200.0 756.8,224.0 758.1,174.7 760.0,162.7 761.3,168.8 764.0,166.7 765.6,166.7 767.2,160.8 768.8,165.3 770.1,176.0 771.5,177.3 772.5,193.3 773.6,185.3 775.5,208.0 777.3,213.3 778.9,173.3 780.5,173.3 781.9,189.3 783.2,180.0 784.3,206.7 785.9,177.3 787.5,177.3 788.8,193.3 789.9,194.7 791.5,174.7 792.5,201.3 793.9,180.0 795.5,160.0 796.5,180.0 797.9,154.7 799.2,177.3 800.3,180.0 801.9,178.7 803.2,192.0 804.5,180.0 806.1,193.3 807.5,209.3 809.3,220.0 810.9,208.0 812.5,220.0 813.3,225.3 814.7,213.3 816.3,217.3 817.9,180.0 819.5,202.7 820.8,209.3 822.1,222.7 823.5,224.0 824.8,234.7 826.7,237.3 828.0,233.3 829.3,238.7 830.7,233.3 832.0,237.3 833.3,238.7 834.7,232.8 836.5,234.7 838.1,238.7 840.0,240.0 841.9,242.1 844.0,240.8 846.7,237.3 848.0,240.8 849.9,238.7 851.2,228.0 852.5,226.7 853.9,233.3 856.0,224.0 857.3,228.0 858.7,240.0 860.0,230.7 861.3,229.3 862.7,246.7 864.5,257.3 865.9,246.7 867.5,228.0 869.3,242.7 870.7,250.7 872.0,246.7 873.3,249.3 874.7,242.7 876.0,241.3 877.3,254.7 878.7,257.3 880.0,265.3 881.3,262.7 883.5,261.3 885.3,266.7 886.7,274.7 888.0,268.0 889.9,270.7 891.5,270.7 892.5,268.0 894.1,276.0 895.5,274.7 896.8,268.0 897.9,258.7 899.2,270.7 900.8,266.7 902.7,276.0 904.0,273.3 905.3,272.0 906.7,262.7 908.0,261.3 909.1,273.3 910.1,261.3 911.5,270.7 912.8,265.3 914.7,265.3 916.0,264.0 917.3,262.7 919.2,266.7 920.8,270.7 922.7,269.3 924.0,266.7 924.8,246.7 925.3,211.5 926.1,246.7 927.2,268.0 928.8,266.7 930.1,265.3 931.5,262.7 932.5,266.7 934.1,264.0 935.5,261.3 936.8,260.0 938.1,258.7 938.9,246.7 940.0,233.3 941.3,241.3 942.7,246.7 944.0,252.0 945.3,228.0 946.1,226.7 947.5,254.7 948.8,260.0 950.1,254.7 951.5,250.7 952.8,244.0 954.1,254.7 955.5,252.0 956.8,249.3 958.1,252.0 959.5,249.3 960.8,252.0 962.7,248.0 964.0,249.3 965.3,250.7 966.7,242.7 967.5,241.3 968.8,249.3 970.1,252.0 972.0,248.0 974.1,245.3 976.0,246.7 977.3,238.7 978.7,233.3 980.0,228.0 981.3,236.0 982.7,242.7 984.0,238.7 985.3,241.3 986.7,246.7 988.0,245.3 989.3,230.7 990.1,226.7 991.2,238.7 992.5,242.7 993.9,241.3 995.2,246.7 997.3,249.3 998.7,241.3 1000.0,237.3 1001.9,238.7 1003.5,241.3 1005.3,249.3 1006.7,254.7 1008.8,257.3 1010.7,258.7 1012.0,252.0 1013.3,260.0 1014.7,249.3 1016.0,258.7 1017.3,246.7 1018.7,254.7 1020.0,246.7 1021.3,234.7 1022.7,249.3 1024.0,246.7 1025.3,249.3 1027.5,254.7 1029.3,249.3 1030.7,245.3 1032.5,240.0 1033.9,246.7 1035.5,246.7 1036.8,249.3 1038.1,193.3 1038.6,68.0 1039.2,68.0 1040.3,178.7 1041.3,181.3 1042.4,246.7 1044.0,274.7 1045.3,254.7 1046.7,272.0 1048.0,268.0 1049.3,270.7 1050.9,221.3 1052.0,246.7 1053.3,254.7 1054.7,238.7 1056.0,254.7 1057.3,246.7 1058.7,217.9 1060.0,246.7 1061.3,256.0 1062.7,249.3 1064.0,254.7 1065.3,246.7 1066.7,256.0 1068.0,244.0 1069.3,252.0 1070.7,232.0 1072.0,253.3 1073.3,245.3 1074.7,249.3 1076.0,220.0 1077.1,184.0 1078.1,204.0 1079.2,220.0 1080.0,222.7 1081.3,246.7 1083.2,254.7 1084.5,252.0 1086.1,257.3 1088.0,256.0 1089.9,258.7 1091.5,256.0 1093.3,260.0 1094.7,254.7 1096.0,248.0 1097.3,253.3 1098.7,242.7 1100.0,257.3 1101.3,276.0 1102.1,294.7 1103.5,270.7 1104.8,288.0 1105.9,273.3 1107.2,206.7 1108.3,173.3 1109.3,220.0 1110.1,261.3 1111.2,220.0 1112.3,180.0 1113.1,160.0 1114.1,193.3 1115.2,233.3 1116.0,253.3 1117.3,246.7 1118.1,237.3 1119.2,256.0 1120.0,206.7 1120.8,166.7 1121.9,157.3 1124.0,157.3 1125.3,172.0 1126.7,169.3 1128.0,176.0 1129.3,154.7 1130.7,166.7 1132.0,169.3 1133.3,173.3 1134.7,169.3 1136.0,165.3 1137.3,173.3 1138.7,180.0 1140.0,172.0 1141.3,177.3 1142.7,169.3 1144.0,174.7 1145.3,166.7 1146.7,177.3 1148.0,180.0 1149.3,184.0 1150.7,178.7 1152.0,186.7 1153.3,189.3 1154.7,193.3 1156.0,196.0 1157.3,200.0 1158.7,212.0 1160.0,218.7 1161.3,221.3 1162.7,193.3 1164.0,161.3 1165.1,193.3 1166.1,220.0 1167.2,209.3 1168.3,222.7 1169.3,206.7 1170.7,220.0 1172.0,252.0 1172.8,272.0 1173.9,246.7 1175.2,260.0 1176.7,285.0 1178.3,266.7 1180.0,233.3 1181.7,225.0 1183.3,228.3 1184.3,225.0 1186.0,233.3 1187.3,226.7 1188.7,240.0 1190.3,220.0 1192.3,213.3 1194.3,216.7 1196.0,215.0 1197.7,220.0 1199.0,250.0 1200.0,275.0 1201.7,260.0 1203.3,220.0 1205.0,210.0 1206.7,226.7 1207.7,235.0 1209.0,213.3 1210.3,216.7 1211.7,213.3 1213.3,216.7 1215.0,211.7 1216.7,213.3 1218.3,206.7 1220.0,200.0 1221.0,196.7 1222.3,186.7 1223.3,160.0 1224.3,120.0 1225.3,133.3 1226.3,150.0 1227.3,140.0 1228.3,110.0 1229.3,166.7 1230.7,150.0 1232.3,138.3 1233.7,153.3 1235.0,151.7 1236.3,168.3 1237.7,155.0 1239.0,180.0 1240.3,193.3 1241.7,206.7 1243.3,188.3 1245.0,186.7 1246.3,196.7 1247.7,183.3 1249.0,166.7 1250.0,146.7 1251.0,166.7 1252.3,186.7 1254.0,195.0 1255.7,190.0 1257.3,203.3 1259.0,190.0 1261.0,181.7 1262.3,190.0 1264.0,181.7 1265.7,190.0 1267.3,200.0 1268.7,210.0 1270.0,196.7 1271.3,195.0 1272.7,211.7 1274.3,200.0 1275.7,208.3 1277.0,196.7 1278.7,200.0 1280.3,220.0 1281.7,225.0 1283.0,215.0 1284.3,233.3 1285.7,256.7 1287.0,273.3 1288.3,246.7 1289.7,260.0 1290.7,280.0 1292.0,233.3 1293.3,228.3 1295.0,230.0 1296.3,228.3 1297.7,243.3 1299.0,248.3 1300.3,233.3 1302.0,223.3 1303.3,233.3 1304.7,243.3 1306.0,243.3 1307.3,265.0 1308.7,246.7 1310.0,246.7 1311.3,273.3 1312.7,296.7 1315.0,298.3 1316.7,291.7 1318.3,290.0 1319.7,281.7 1321.0,272.7 1322.7,278.3 1324.0,276.7 1325.7,283.3 1327.3,280.0 1329.0,285.0 1330.7,282.7 1332.3,285.0 1334.0,288.3 1335.0,283.3" fill="none" stroke="#8ab8ff" stroke-width="1.6" stroke-linejoin="round"/>
 <g stroke="#383b42" stroke-width="1"><line x1="1336" y1="62.5" x2="1339" y2="62.5"/><line x1="1336" y1="90.5" x2="1339" y2="90.5"/><line x1="1336" y1="118.5" x2="1339" y2="118.5"/><line x1="1336" y1="146.5" x2="1339" y2="146.5"/><line x1="1336" y1="174.5" x2="1339" y2="174.5"/><line x1="1336" y1="202.5" x2="1339" y2="202.5"/><line x1="1336" y1="230.5" x2="1339" y2="230.5"/><line x1="1336" y1="258.5" x2="1339" y2="258.5"/><line x1="1336" y1="286.5" x2="1339" y2="286.5"/></g><g fill="#b9bac2"><rect x="1341.8" y="59.7" width="1.4" height="5.6" rx="0.6"/><rect x="1341.8" y="87.7" width="1.4" height="5.6" rx="0.6"/><rect x="1341.8" y="115.7" width="1.4" height="5.6" rx="0.6"/><rect x="1341.8" y="143.7" width="1.4" height="5.6" rx="0.6"/><rect x="1341.8" y="171.7" width="1.4" height="5.6" rx="0.6"/><rect x="1341.8" y="199.7" width="1.4" height="5.6" rx="0.6"/><rect x="1341.8" y="227.7" width="1.4" height="5.6" rx="0.6"/><rect x="1341.8" y="255.7" width="1.4" height="5.6" rx="0.6"/><rect x="1341.8" y="283.7" width="1.4" height="5.6" rx="0.6"/></g>
</svg>
<div class="xl" style="left:705.5px">08/03 12:00</div><div class="xl" style="left:776.6px">08/04 00:00</div><div class="xl" style="left:847.7px">08/04 12:00</div><div class="xl" style="left:918.8px">08/05 00:00</div><div class="xl" style="left:989.9px">08/05 12:00</div><div class="xl" style="left:1061.0px">08/06 00:00</div><div class="xl" style="left:1132.1px">08/06 12:00</div><div class="xl" style="left:1203.2px">08/07 00:00</div><div class="xl" style="left:1274.3px">08/07 12:00</div>
<div class="xl" style="left:1262px;top:333px;width:50px;text-align:right;color:#6e9fff">Last</div>
<div class="lrow" style="top:348px"><i style="background:#73bf69"></i><span class="ln">ES104_H<em></em></span><span class="lv">95.8%</span><span class="lv2"></span></div><div class="lrow" style="top:366px"><i style="background:#f2cc0c"></i><span class="ln">ES104_T<em></em></span><span class="lv">15.8 °C</span><span class="lv2"></span></div><div class="lrow b" style="top:384px"><i style="background:#8ab8ff"></i><span class="ln">PM_10<em> (right y-axis)</em></span><span class="lv">0.110 µg/m³</span><span class="lv2">0.87</span></div><div class="lrow" style="top:402px"><i style="background:#ff780a"></i><span class="ln">PM_2.5<em> (right y-axis)</em></span><span class="lv">0.0750 µg/m³</span><span class="lv2">0.63</span></div><div class="lrow" style="top:420px"><i style="background:#f2495c"></i><span class="ln">PM_10 - PM_2.5<em> (right y-axis)</em></span><span class="lv">0.0350 µg/m³</span><span class="lv2">0.25</span></div>
<div style="position:absolute;left:705px;top:438px;width:643px;height:1px;background:#25282d"></div>

<!-- Row title -->
<svg width="8" height="6" viewBox="0 0 8 6" style="left:3.2px;top:461.8px"><path d="M1.2 1.2L3.9 3.9L6.6 1.2" fill="none" stroke="#c8c9d2" stroke-width="1.2"/></svg>
<div class="row">Метео карта</div>

<!-- Panel 3: wind map -->
<div class="panel" style="left:1px;top:482px;width:692px;height:130px">
 <div class="ptitle">Ветер и температура</div>
 <div class="corner"></div><div class="ci">i</div>
 <div class="map">
  <svg width="690" height="93" viewBox="2 508 690 93">
   <polygon points="312.7,512.1 317.4,508.2 330.9,506.9 331.7,524.0 325.3,526.4 323.8,527.2 330.9,528.8 329.3,538.3 325.3,547.8 321.4,557.3 323.8,561.2 327.7,558.1 331.7,554.1 332.5,550.9 334.1,547.0 335.6,539.8 339.6,536.7 338.8,530.3 339.6,522.4 338.8,516.1 342.8,512.9 347.5,517.7 353.9,520.8 358.6,525.6 363.4,530.3 366.5,534.3 372.9,541.4 379.2,547.0 386.3,553.3 388.7,557.3 393.5,562.0 395.0,568.4 398.2,576.3 404.5,585.8 410.9,591.3 417.2,595.3 422.0,600.0 423.6,601.6 439.4,601.6 437.8,600.0 433.1,595.3 426.7,591.3 422.8,584.2 420.4,581.0 415.6,579.4 411.7,571.5 409.3,568.4 405.3,559.6 409.3,555.7 404.5,557.3 401.4,552.5 395.0,545.4 388.7,539.1 384.0,531.9 380.8,525.6 379.2,523.2 387.9,518.5 387.1,517.4 377.6,520.0 378.4,512.9 378.4,506.9 374.4,506.9 372.9,509.8 369.7,512.9 367.3,512.1 366.5,506.9" fill="#202020"/>
   <g fill="none" stroke="#1c1c1c" stroke-width="1"><polyline points="263.3,555.8 285.6,550.3 300.5,559.6 309.8,568.9 308.0,585.6 309.8,600.0"/>
<polyline points="248.4,572.6 274.5,574.5 308.0,580.0"/>
<polyline points="216.8,507.4 222.3,522.3 214.9,533.5 226.0,548.4 224.2,574.5 218.6,600.0" stroke="#262626" stroke-dasharray="1 1.3"/>
<polyline points="334.0,563.3 348.9,574.5 363.8,580.0 373.0,591.0"/>
<polyline points="449.4,522.3 423.4,537.2 408.5,552.0"/>
<polyline points="475.5,518.6 464.3,541.0 438.3,555.8"/>
<polyline points="464.3,557.7 442.0,570.7 434.6,580.0 430.8,596.8"/>
<polyline points="477.4,561.4 477.4,578.2 460.6,593.0"/>
<polyline points="548.0,507.4 544.4,529.8 535.0,548.4 527.6,559.6 509.0,561.4 494.0,574.5 486.7,589.4 484.8,600.0"/>
<polyline points="527.6,559.6 557.4,554.0 583.5,552.0 587.2,555.8"/>
<polyline points="509.0,561.4 516.5,568.9 550.0,574.5 561.0,593.0"/>
<polyline points="583.5,555.8 594.6,570.7 609.5,585.6 620.7,600.0"/>
<polyline points="695.0,533.5 676.5,541.0 661.7,550.3 650.5,561.4 628.0,563.3 609.5,567.0"/>
<polyline points="661.7,550.3 676.5,567.0 684.0,582.0 680.3,600.0"/>
<polyline points="5.2,515.4 31.3,518.0 41.7,528.4 31.3,544.0 23.5,565.0 15.6,585.8 0.0,596.0"/>
<polyline points="93.8,507.6 88.6,523.2 104.3,531.0 172.0,533.6 182.5,544.0 219.0,533.6 229.4,512.8"/>
<polyline points="182.5,507.6 177.3,523.2 166.8,549.3 172.0,570.0 182.5,600.0"/>
<polyline points="104.3,600.0 130.3,580.6 156.4,575.3"/>
<polyline points="250.3,570.0 271.0,557.0 292.0,570.0"/></g>
  </svg>
  <div class="mapl" style="left:153px;top:15px;color:#3c3c3c">Bolshoy Lug</div>
  <div class="mapl i" style="left:363px;top:25.5px">Иркутское</div>
  <div class="mapl i" style="left:355.8px;top:32.5px">водохранилище</div>
  <div class="zoomc"><div class="p"></div><div></div></div>
  <div class="mbtn" style="left:666px;top:6px"><div><svg width="15" height="15" viewBox="0 0 15 15"><path d="M2.6 11.2V2.6H11.4V5.8H5.8V11.2Z" fill="none" stroke="#e8e9f0" stroke-width="1.3"/></svg></div></div>
 </div>
</div>

<!-- Panel 4: pressure -->
<div class="panel" style="left:699px;top:482px;width:660px;height:130px">
 <div class="ptitle" style="left:0;width:690px;right:auto">Давление</div>
 <svg width="7" height="5" viewBox="0 0 7 5" style="left:374.7px;top:10px"><path d="M0.9 1L3.4 3.5L5.9 1" fill="none" stroke="#a0a2ac" stroke-width="1.1"/></svg>
</div>
<svg width="1343" height="600" viewBox="0 0 1343 600" style="pointer-events:none">
 <g stroke="#2a2d33" stroke-width="1"><line x1="793.4" y1="520" x2="793.4" y2="600"/><line x1="863.7" y1="520" x2="863.7" y2="600"/><line x1="934.0" y1="520" x2="934.0" y2="600"/><line x1="1004.3" y1="520" x2="1004.3" y2="600"/><line x1="1074.6" y1="520" x2="1074.6" y2="600"/><line x1="1144.9" y1="520" x2="1144.9" y2="600"/><line x1="1215.2" y1="520" x2="1215.2" y2="600"/><line x1="1285.5" y1="520" x2="1285.5" y2="600"/><line x1="758" y1="531.5" x2="1343" y2="531.5"/><line x1="758" y1="569" x2="1343" y2="569"/></g>
 <polygon points="760.8,572.9 762.5,563.5 764.4,557.4 766.2,559.9 768.6,553.7 772.3,552.0 776.0,553.7 779.7,551.3 781.4,546.3 784.6,544.6 788.3,545.8 792.0,549.5 795.7,552.5 799.3,556.7 803.0,558.1 806.7,564.8 809.2,568.5 812.9,569.7 816.5,565.5 820.2,561.6 823.9,564.8 826.4,559.1 828.8,561.1 832.5,557.4 836.2,556.7 839.9,554.9 843.6,556.9 847.2,551.3 850.9,549.3 854.6,545.1 858.3,540.2 862.0,537.0 865.7,540.2 869.4,538.5 873.0,536.0 876.7,535.3 880.4,540.7 884.1,532.8 886.6,531.1 890.2,530.4 893.9,531.6 897.6,531.6 901.3,529.1 905.0,528.4 908.7,527.9 911.1,530.4 912.4,534.5 916.0,536.5 919.7,537.0 923.4,540.2 927.1,548.8 929.6,546.3 932.0,545.8 935.7,551.3 939.4,556.2 943.1,559.9 946.8,568.5 950.4,566.0 952.9,564.0 955.4,568.0 957.8,564.8 960.3,567.2 964.0,565.5 967.6,564.8 971.3,570.9 975.0,575.3 978.7,572.9 981.2,576.6 984.8,579.5 988.5,578.3 992.2,579.5 995.9,583.2 999.6,585.7 1003.3,585.2 1007.0,586.1 1009.4,577.0 1011.2,574.5 1012.5,574.0 1015.0,578.2 1018.7,581.9 1021.2,589.3 1023.6,587.6 1026.1,587.4 1029.8,591.3 1033.6,594.3 1037.3,595.5 1041.0,596.8 1043.5,599.3 1047.2,598.8 1052.2,599.3 1057.1,598.5 1062.1,599.3 1067.0,599.8 1072.0,598.8 1075.7,599.3 1079.4,598.0 1083.1,599.8 1085.6,599.3 1088.1,594.3 1091.8,595.5 1095.5,593.8 1099.3,593.1 1103.0,589.3 1105.5,593.1 1107.9,590.6 1111.7,583.9 1114.1,585.6 1117.9,582.4 1121.6,584.4 1124.6,583.1 1127.8,578.9 1131.5,579.4 1137.7,579.9 1142.7,586.4 1146.4,585.6 1151.3,584.9 1155.0,585.6 1158.3,579.9 1161.3,584.4 1165.0,585.6 1168.7,580.7 1172.4,579.4 1176.1,577.4 1181.1,576.4 1184.8,572.0 1188.5,567.5 1192.2,569.0 1196.0,566.5 1199.7,567.0 1203.4,569.0 1207.1,569.5 1210.8,572.0 1214.6,573.2 1218.3,574.5 1222.0,575.7 1225.7,579.4 1229.4,584.4 1233.2,583.1 1236.9,584.9 1241.8,588.1 1245.6,584.4 1249.3,586.9 1253.0,585.6 1256.7,586.4 1260.4,581.9 1264.2,582.4 1267.9,575.0 1270.4,567.0 1274.1,561.6 1276.6,562.6 1280.3,568.3 1284.0,568.8 1289.0,567.5 1292.7,570.7 1295.1,574.0 1298.9,575.0 1302.6,572.5 1306.3,570.0 1310.0,570.7 1313.7,569.5 1317.5,568.3 1321.2,570.7 1326.1,573.2 1329.9,569.5 1334.8,569.0 1338.5,567.5 1343.0,567.8 1343.0,600.0 760.8,600.0" fill="#73bf69" fill-opacity="0.16"/>
 <polyline points="760.8,572.9 762.5,563.5 764.4,557.4 766.2,559.9 768.6,553.7 772.3,552.0 776.0,553.7 779.7,551.3 781.4,546.3 784.6,544.6 788.3,545.8 792.0,549.5 795.7,552.5 799.3,556.7 803.0,558.1 806.7,564.8 809.2,568.5 812.9,569.7 816.5,565.5 820.2,561.6 823.9,564.8 826.4,559.1 828.8,561.1 832.5,557.4 836.2,556.7 839.9,554.9 843.6,556.9 847.2,551.3 850.9,549.3 854.6,545.1 858.3,540.2 862.0,537.0 865.7,540.2 869.4,538.5 873.0,536.0 876.7,535.3 880.4,540.7 884.1,532.8 886.6,531.1 890.2,530.4 893.9,531.6 897.6,531.6 901.3,529.1 905.0,528.4 908.7,527.9 911.1,530.4 912.4,534.5 916.0,536.5 919.7,537.0 923.4,540.2 927.1,548.8 929.6,546.3 932.0,545.8 935.7,551.3 939.4,556.2 943.1,559.9 946.8,568.5 950.4,566.0 952.9,564.0 955.4,568.0 957.8,564.8 960.3,567.2 964.0,565.5 967.6,564.8 971.3,570.9 975.0,575.3 978.7,572.9 981.2,576.6 984.8,579.5 988.5,578.3 992.2,579.5 995.9,583.2 999.6,585.7 1003.3,585.2 1007.0,586.1 1009.4,577.0 1011.2,574.5 1012.5,574.0 1015.0,578.2 1018.7,581.9 1021.2,589.3 1023.6,587.6 1026.1,587.4 1029.8,591.3 1033.6,594.3 1037.3,595.5 1041.0,596.8 1043.5,599.3 1047.2,598.8 1052.2,599.3 1057.1,598.5 1062.1,599.3 1067.0,599.8 1072.0,598.8 1075.7,599.3 1079.4,598.0 1083.1,599.8 1085.6,599.3 1088.1,594.3 1091.8,595.5 1095.5,593.8 1099.3,593.1 1103.0,589.3 1105.5,593.1 1107.9,590.6 1111.7,583.9 1114.1,585.6 1117.9,582.4 1121.6,584.4 1124.6,583.1 1127.8,578.9 1131.5,579.4 1137.7,579.9 1142.7,586.4 1146.4,585.6 1151.3,584.9 1155.0,585.6 1158.3,579.9 1161.3,584.4 1165.0,585.6 1168.7,580.7 1172.4,579.4 1176.1,577.4 1181.1,576.4 1184.8,572.0 1188.5,567.5 1192.2,569.0 1196.0,566.5 1199.7,567.0 1203.4,569.0 1207.1,569.5 1210.8,572.0 1214.6,573.2 1218.3,574.5 1222.0,575.7 1225.7,579.4 1229.4,584.4 1233.2,583.1 1236.9,584.9 1241.8,588.1 1245.6,584.4 1249.3,586.9 1253.0,585.6 1256.7,586.4 1260.4,581.9 1264.2,582.4 1267.9,575.0 1270.4,567.0 1274.1,561.6 1276.6,562.6 1280.3,568.3 1284.0,568.8 1289.0,567.5 1292.7,570.7 1295.1,574.0 1298.9,575.0 1302.6,572.5 1306.3,570.0 1310.0,570.7 1313.7,569.5 1317.5,568.3 1321.2,570.7 1326.1,573.2 1329.9,569.5 1334.8,569.0 1338.5,567.5 1343.0,567.8" fill="none" stroke="#73bf69" stroke-width="1.8" stroke-linejoin="round"/>
</svg>
<div class="yl" style="top:524.5px">952.00 hPa</div>
<div class="yl" style="top:562px">950.00 hPa</div>
</body></html>
